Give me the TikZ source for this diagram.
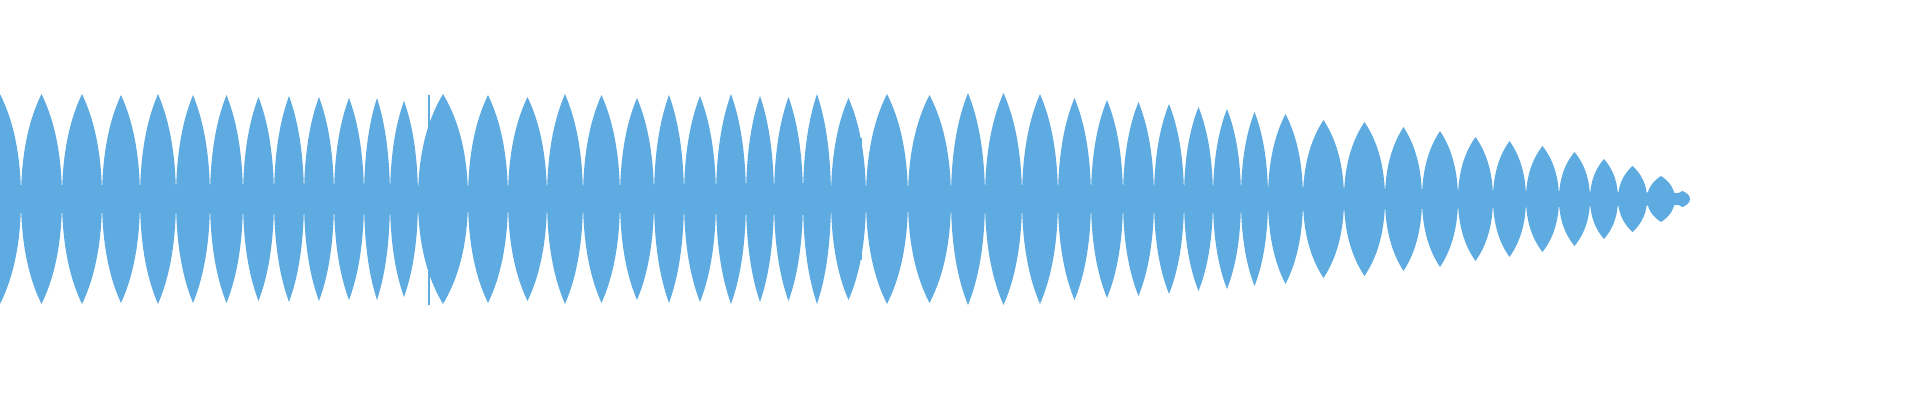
\documentclass[tikz,border=0pt]{standalone}
\definecolor{wave}{RGB}{93,171,225}
\begin{document}
\begin{tikzpicture}[x=1pt,y=1pt]
\useasboundingbox (0,0) rectangle (1920,400);
\begin{scope}
\clip (0,0) rectangle (1920,400);
\fill[wave] (0,187) -- (1300,189) -- (1684,195) -- (1684,207) -- (1300,213) -- (0,215) -- cycle;
\foreach \a/\b/\A in {-21/21/105,21/62/105,62/102/105,102/140/104,140/176/105,176/210/104,210/243/104,243/274/102,274/304/103,304/334/102,334/364/101,364/390/101,390/418/98,418/468/105,468/508/104,508/547/102,547/583/105,583/620/104,620/654/101,654/684/104,684/716/103,716/746/105,746/774/103,774/803/102,803/831/105,831/866/101,866/908/105,908/951/104,951/985/106,985/1022/106,1022/1058/105,1058/1091/101,1091/1123/99,1123/1154/97,1154/1184/95,1184/1213/92,1213/1241/90,1241/1268/87,1268/1303/85,1303/1344/79,1344/1385/77,1385/1422/72,1422/1458/68,1458/1493/62,1493/1526/58,1526/1559/53,1559/1590/47,1590/1618/40,1618/1647/33,1647/1675/23,1675/1690/8}{
  \pgfmathsetmacro\m{(\a+\b)/2}
  \pgfmathsetmacro\d{\b-\a}
  \pgfmathsetmacro\p{\m-0.12*\d}
  \pgfmathsetmacro\q{\m+0.12*\d}
  \pgfmathsetmacro\t{201+\A}
  \pgfmathsetmacro\u{201-\A}
  \pgfmathsetmacro\s{201+0.6*\A}
  \pgfmathsetmacro\r{201-0.6*\A}
  \pgfmathsetmacro\tt{201+0.9*\A}
  \pgfmathsetmacro\uu{201-0.9*\A}
  \fill[wave] (\a,201) .. controls (\a,\s) and (\p,\tt) .. (\m,\t)
    .. controls (\q,\tt) and (\b,\s) .. (\b,201)
    .. controls (\b,\r) and (\q,\uu) .. (\m,\u)
    .. controls (\p,\uu) and (\a,\r) .. cycle;
}
\fill[wave] (428,95) rectangle (430,305);
\fill[wave] (860,140) rectangle (862,262);
\end{scope}
\end{tikzpicture}
\end{document}
